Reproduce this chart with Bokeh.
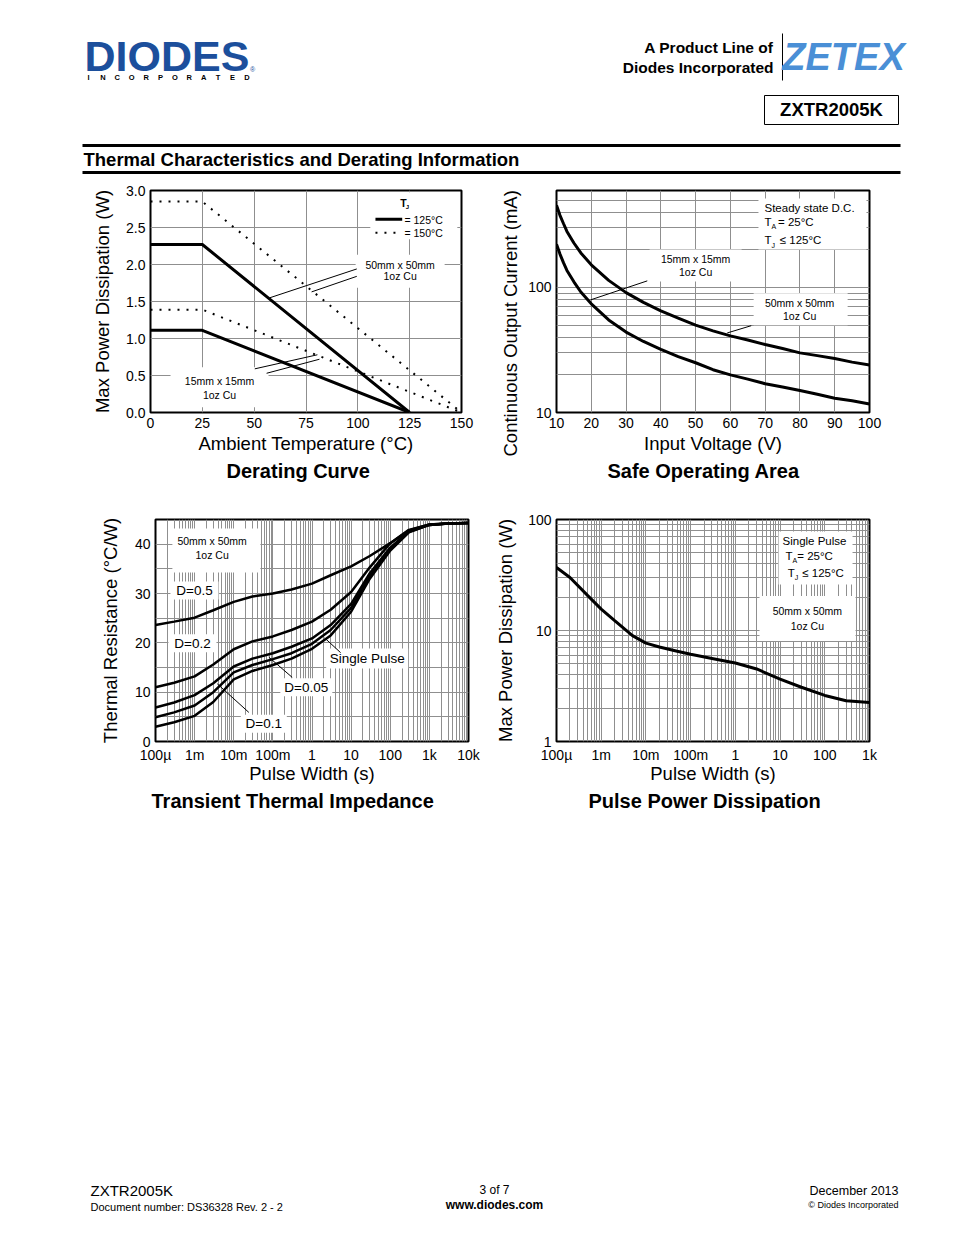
import numpy as np
from bokeh.plotting import figure
from bokeh.models import (Range1d, FixedTicker, PrintfTickFormatter,
                          CustomJSTickFormatter, Title)
from bokeh.layouts import column, row
from bokeh.core.properties import value
from bokeh.embed import file_html
from bokeh.resources import INLINE

FONT = "Liberation Sans"
GRID = "#8f8f8f"

# ---------------- data ----------------
# Derating curve: ambient temperature (°C) vs max power dissipation (W)
derate_t125 = [0, 25, 125]
derate_50_125 = [2.27, 2.27, 0.0]
derate_15_125 = [1.11, 1.11, 0.0]
derate_t150 = [0, 25, 150]
derate_50_150 = [2.85, 2.85, 0.0]
derate_15_150 = [1.39, 1.39, 0.0]
derate_xticks = [0, 25, 50, 75, 100, 125, 150]
derate_yticks = [0.0, 0.5, 1.0, 1.5, 2.0, 2.5, 3.0]

# Safe operating area: input voltage (V) vs continuous output current (mA)
soa_v = [10, 11, 12, 13, 15, 17, 20, 25, 30, 35, 40, 45, 50, 55, 60, 65, 70,
         75, 80, 85, 90, 95, 100]
soa_50 = [455, 378, 325, 281, 227, 189, 152, 114, 91, 76, 65, 57, 50, 45, 41,
          38, 35, 32.5, 30, 28.5, 27, 25.3, 24]
soa_15 = [222, 185, 158, 137, 111, 92, 74, 55, 44, 37, 32, 28, 25, 22, 20,
          18.5, 17, 16, 15, 14, 13, 12.4, 11.7]
soa_xticks = [10, 20, 30, 40, 50, 60, 70, 80, 90, 100]
soa_yticks = [10, 100]

# Transient thermal impedance: pulse width (s) vs thermal resistance (°C/W)
tti_t = [1e-4, 3e-4, 1e-3, 3e-3, 1e-2, 3e-2, 0.1, 0.3, 1, 3, 10, 30, 100,
         300, 1e3, 3e3, 1e4]
tti_d50 = [23.6, 24.3, 25.1, 26.6, 28.3, 29.4, 30.0, 30.8, 32.0, 33.7, 35.5,
           37.6, 40.2, 42.8, 44.0, 44.2, 44.3]
tti_d20 = [11.0, 11.9, 13.2, 15.6, 18.7, 20.3, 21.3, 22.6, 24.3, 26.7, 30.3,
           35.3, 40.2, 42.9, 44.0, 44.2, 44.3]
tti_d10 = [6.9, 7.9, 9.4, 11.8, 15.2, 16.8, 17.9, 19.2, 20.9, 23.6, 27.9,
           34.1, 39.3, 42.6, 43.9, 44.2, 44.3]
tti_d05 = [4.9, 5.9, 7.3, 10.0, 14.0, 15.5, 16.7, 17.9, 19.8, 22.6, 27.1,
           33.5, 39.0, 42.5, 43.9, 44.2, 44.3]
tti_single = [3.0, 3.9, 5.2, 8.0, 12.6, 14.3, 15.5, 16.8, 18.8, 21.5, 26.3,
              33.0, 38.7, 42.4, 43.9, 44.2, 44.3]
tti_xlabels = ["100µ", "1m", "10m", "100m", "1", "10", "100", "1k", "10k"]
tti_yticks = [0, 10, 20, 30, 40]

# Pulse power dissipation: pulse width (s) vs max power (W)
ppd_t = [1e-4, 2e-4, 5e-4, 1e-3, 2e-3, 5e-3, 1e-2, 2e-2, 5e-2, 0.1, 0.3, 1,
         3, 10, 30, 100, 300, 1000]
ppd_p = [37, 30, 20.6, 15.6, 12.3, 9.0, 7.7, 7.1, 6.5, 6.1, 5.6, 5.1, 4.5,
         3.65, 3.08, 2.6, 2.33, 2.25]
ppd_xlabels = ["100µ", "1m", "10m", "100m", "1", "10", "100", "1k"]
ppd_yticks = [1, 10, 100]


def log_grid(lo, hi):
    return [m * 10.0 ** e for e in range(lo, hi) for m in range(1, 10)] + [10.0 ** hi]


# ---------------- helpers ----------------
def txt(p, x, y, s, size="10.5px", align="center", style="normal",
        color="black", font=FONT, xo=0, yo=0, baseline="middle"):
    p.text(x=[x], y=[y], text=[s], text_font=value(font),
           text_font_size=value(size), text_align=align,
           text_baseline=baseline, text_font_style=style,
           text_color=color, x_offset=xo, y_offset=yo)


def sub(p, x, y, main, s, size="11.5px", style="normal"):
    txt(p, x, y, main, size=size, align="left", style=style)
    txt(p, x, y, s, size="7px", align="left", style=style, xo=7, yo=5)


def box(p, x, y, w, h):
    p.rect(x=[x], y=[y], width=w, height=h, width_units="screen",
           height_units="screen", fill_color="white", line_color=None)


def seg(p, x0, y0, x1, y1, w=1):
    p.segment(x0=[x0], y0=[y0], x1=[x1], y1=[y1], line_color="black",
              line_width=w)


def chart(x_range, y_range, fw, fh, left, right, top, bottom, xlabel,
          ylabel, title, title_off, ystand, xstand=2, x_type="linear",
          y_type="linear"):
    p = figure(frame_width=fw, frame_height=fh, x_range=x_range,
               y_range=y_range, x_axis_type=x_type, y_axis_type=y_type,
               toolbar_location=None, output_backend="svg",
               min_border_left=left, min_border_right=right,
               min_border_top=top, min_border_bottom=bottom,
               x_axis_label=xlabel, y_axis_label=ylabel)
    p.outline_line_color = "black"
    p.outline_line_width = 2
    p.outline_line_alpha = 1
    p.background_fill_color = "white"
    p.border_fill_color = "white"
    for ax in p.axis:
        ax.axis_line_color = None
        ax.major_tick_line_color = None
        ax.minor_tick_line_color = None
        ax.major_tick_out = 0
        ax.major_tick_in = 0
        ax.minor_tick_out = 0
        ax.minor_tick_in = 0
        ax.major_label_standoff = 5
        ax.major_label_text_font = FONT
        ax.major_label_text_font_size = "14px"
        ax.major_label_text_color = "black"
        ax.axis_label_text_font = FONT
        ax.axis_label_text_font_size = "18.5px"
        ax.axis_label_text_font_style = "normal"
        ax.axis_label_text_color = "black"
    p.xaxis.axis_label_standoff = xstand
    p.yaxis.axis_label_standoff = ystand
    p.grid.grid_line_color = GRID
    p.grid.grid_line_width = 1
    p.add_layout(Title(text=title, align="left", offset=title_off,
                       text_font=FONT, text_font_size="20px",
                       text_font_style="bold", text_color="black",
                       standoff=2), "below")
    return p


# ---------------- header ----------------
head = figure(width=954, height=178, x_range=Range1d(0, 954),
              y_range=Range1d(178, 0), toolbar_location=None,
              output_backend="svg", min_border=0, x_axis_location=None,
              y_axis_location=None)
head.grid.visible = False
head.outline_line_color = None
txt(head, 84, 55, "DIODES", size="43px", align="left", style="bold",
    color="#1c4f9c")
letters = "INCORPORATED"
for i, ch in enumerate(letters):
    txt(head, 88 + i * 14.4, 76.5, ch, size="7.5px", style="bold")
txt(head, 252, 69, "®", size="7px", color="#1c4f9c")
txt(head, 773, 47, "A Product Line of", size="15.5px", align="right", style="bold")
txt(head, 773, 67, "Diodes Incorporated", size="15.5px", align="right", style="bold")
seg(head, 782, 33, 782, 80, 1)
txt(head, 843, 56, "ZETEX", size="38px", style="bold italic",
    color="#4a8fd6")
head.rect(x=[831], y=[109.5], width=134, height=29, fill_color=None,
          line_color="black", line_width=1)
txt(head, 831, 109, "ZXTR2005K", size="18.5px", style="bold")
seg(head, 82, 145, 900, 145, 3)
seg(head, 82, 172, 900, 172, 3)
txt(head, 83, 158.5, "Thermal Characteristics and Derating Information",
    size="18.5px", align="left", style="bold")

# ---------------- chart 1: derating curve ----------------
p1 = chart(Range1d(0, 150), Range1d(0, 3), 311, 222, 150, 27, 12, 88,
           "Ambient Temperature (°C)", "Max Power Dissipation (W)",
           "Derating Curve", 76, 10)
p1.xaxis.ticker = FixedTicker(ticks=derate_xticks)
p1.yaxis.ticker = FixedTicker(ticks=derate_yticks)
p1.yaxis.formatter = PrintfTickFormatter(format="%.1f")
box(p1, 127, 2.66, 87, 47)
box(p1, 120.4, 1.91, 89, 33)
box(p1, 33.3, 0.34, 98, 40)
p1.line(derate_t150, derate_50_150, line_color="black", line_width=2,
        line_dash="2 7")
p1.line(derate_t150, derate_15_150, line_color="black", line_width=2,
        line_dash="2 7")
p1.line(derate_t125, derate_50_125, line_color="black", line_width=3)
p1.line(derate_t125, derate_15_125, line_color="black", line_width=3)
# legend
txt(p1, 122, 2.83, "T", size="10.5px", style="bold")
txt(p1, 122, 2.83, "J", size="6px", style="bold", xo=4, yo=4)
seg(p1, 108.5, 2.61, 121.4, 2.61, 3)
p1.segment(x0=[108.5], y0=[2.43], x1=[121.0], y1=[2.43], line_color="black",
           line_width=2, line_dash="2 7")
txt(p1, 122.5, 2.60, "= 125°C", align="left")
txt(p1, 122.5, 2.42, "= 150°C", align="left")
# labels
txt(p1, 120.4, 2.0, "50mm x 50mm")
txt(p1, 120.4, 1.84, "1oz Cu")
seg(p1, 57.5, 1.55, 99.5, 1.94)
seg(p1, 77.7, 1.63, 99.5, 1.84)
txt(p1, 33.3, 0.42, "15mm x 15mm")
txt(p1, 33.3, 0.23, "1oz Cu")
seg(p1, 50.3, 0.59, 80.5, 0.78)
seg(p1, 56.0, 0.53, 81.5, 0.72)

# ---------------- chart 2: safe operating area ----------------
p2 = chart(Range1d(10, 100), Range1d(10, 597), 313, 222, 68, 85, 12, 88,
           "Input Voltage (V)", None, "Safe Operating Area", 51, 5,
           y_type="log")
p2.add_layout(Title(text="Continuous Output Current (mA)", align="left",
                    offset=-44, standoff=9, text_font=FONT,
                    text_font_size="18.5px", text_font_style="normal",
                    text_color="black"), "left")
p2.xaxis.ticker = FixedTicker(ticks=soa_xticks)
p2.yaxis.ticker = FixedTicker(ticks=soa_yticks)
p2.yaxis.formatter = CustomJSTickFormatter(code="return tick.toFixed(0);")
p2.xgrid.ticker = FixedTicker(ticks=soa_xticks)
p2.ygrid.ticker = FixedTicker(ticks=log_grid(1, 2)[1:] + [200, 300, 400, 500])
box(p2, 83.6, 322, 108, 51)
box(p2, 50, 150, 92, 32)
box(p2, 80.2, 67, 94, 32)
p2.line(soa_v, soa_50, line_color="black", line_width=3)
p2.line(soa_v, soa_15, line_color="black", line_width=3)
txt(p2, 69.8, 435, "Steady state D.C.", size="11.5px", align="left")
sub(p2, 69.8, 337, "T", "A")
txt(p2, 73.7, 337, "= 25°C", size="11.5px", align="left")
sub(p2, 69.8, 238, "T", "J")
txt(p2, 74.2, 238, "≤ 125°C", size="11.5px", align="left")
txt(p2, 50, 168, "15mm x 15mm")
txt(p2, 50, 132, "1oz Cu")
seg(p2, 19.8, 79.6, 36.1, 113)
txt(p2, 79.9, 75, "50mm x 50mm")
txt(p2, 79.9, 59, "1oz Cu")
seg(p2, 59.1, 43.3, 66, 49.5)

# ---------------- chart 3: transient thermal impedance ----------------
p3 = chart(Range1d(1e-4, 1e4), Range1d(0, 45), 313, 222, 155, 20, 19, 89,
           "Pulse Width (s)", "Thermal Resistance (°C/W)",
           "Transient Thermal Impedance", -4, 11, xstand=-3, x_type="log")
p3.xaxis.ticker = FixedTicker(ticks=[10.0 ** e for e in range(-4, 5)])
p3.xaxis.formatter = CustomJSTickFormatter(
    args=dict(names=tti_xlabels),
    code="const k = Math.round(Math.log10(tick)); return names[k + 4];")
p3.yaxis.ticker = FixedTicker(ticks=tti_yticks)
p3.xgrid.ticker = FixedTicker(ticks=log_grid(-4, 4))
p3.ygrid.ticker = FixedTicker(ticks=[5, 10, 15, 20, 25, 30, 35, 40])
box(p3, 3.6e-3, 38.7, 88, 44)
box(p3, 9.9e-4, 30.6, 48, 18)
box(p3, 8.8e-4, 19.9, 48, 18)
box(p3, 0.0586, 3.6, 46, 18)
box(p3, 0.716, 11.0, 52, 18)
box(p3, 25.7, 16.8, 82, 20)
for ys in (tti_d50, tti_d20, tti_d10, tti_d05, tti_single):
    p3.line(tti_t, ys, line_color="black", line_width=2.5)
txt(p3, 2.8e-3, 40.7, "50mm x 50mm")
txt(p3, 2.8e-3, 37.8, "1oz Cu")
txt(p3, 9.9e-4, 30.6, "D=0.5", size="13.5px")
txt(p3, 8.8e-4, 19.9, "D=0.2", size="13.5px")
txt(p3, 0.0586, 3.6, "D=0.1", size="13.5px")
txt(p3, 0.716, 11.0, "D=0.05", size="13.5px")
txt(p3, 25.7, 16.8, "Single Pulse", size="13.5px")
seg(p3, 2.1, 21.0, 5.4, 18.0)
seg(p3, 0.0787, 17.1, 0.312, 13.0)
seg(p3, 3.78e-3, 11.7, 0.0243, 5.9)

# ---------------- chart 4: pulse power dissipation ----------------
p4 = chart(Range1d(1e-4, 1e3), Range1d(1, 100), 313, 222, 68, 85, 19, 89,
           "Pulse Width (s)", "Max Power Dissipation (W)",
           "Pulse Power Dissipation", 32, 9, xstand=-3, x_type="log",
           y_type="log")
p4.xaxis.ticker = FixedTicker(ticks=[10.0 ** e for e in range(-4, 4)])
p4.xaxis.formatter = CustomJSTickFormatter(
    args=dict(names=ppd_xlabels),
    code="const k = Math.round(Math.log10(tick)); return names[k + 4];")
p4.yaxis.ticker = FixedTicker(ticks=ppd_yticks)
p4.yaxis.formatter = CustomJSTickFormatter(code="return tick.toFixed(0);")
p4.xgrid.ticker = FixedTicker(ticks=log_grid(-4, 3))
p4.ygrid.ticker = FixedTicker(ticks=log_grid(0, 2))
box(p4, 62.1, 45.0, 74, 53)
box(p4, 41.1, 12.8, 96, 45)
p4.line(ppd_t, ppd_p, line_color="black", line_width=3)
txt(p4, 58.9, 63.5, "Single Pulse", size="11.5px")
sub(p4, 13.2, 47.2, "T", "A")
txt(p4, 24.2, 47.2, "= 25°C", size="11.5px", align="left")
sub(p4, 14.9, 33.0, "T", "J")
txt(p4, 31.3, 33.0, "≤ 125°C", size="11.5px", align="left")
txt(p4, 40.8, 15.0, "50mm x 50mm")
txt(p4, 40.8, 11.0, "1oz Cu")

# ---------------- footer ----------------
foot = figure(width=954, height=400, x_range=Range1d(0, 954),
              y_range=Range1d(1230, 830), toolbar_location=None,
              output_backend="svg", min_border=0, x_axis_location=None,
              y_axis_location=None)
foot.grid.visible = False
foot.outline_line_color = None
txt(foot, 90, 1190, "ZXTR2005K", size="15px", align="left")
txt(foot, 90, 1206, "Document number: DS36328 Rev. 2 - 2", size="11px", align="left")
txt(foot, 494, 1189, "3 of 7", size="12px")
txt(foot, 494, 1204, "www.diodes.com", size="12px", style="bold")
txt(foot, 898, 1190, "December 2013", size="12.5px", align="right")
txt(foot, 898, 1204, "© Diodes Incorporated", size="9px", align="right")

layout = column(head, row(p1, p2), row(p3, p4), foot)
open("out.html", "w").write(file_html(layout, INLINE))
